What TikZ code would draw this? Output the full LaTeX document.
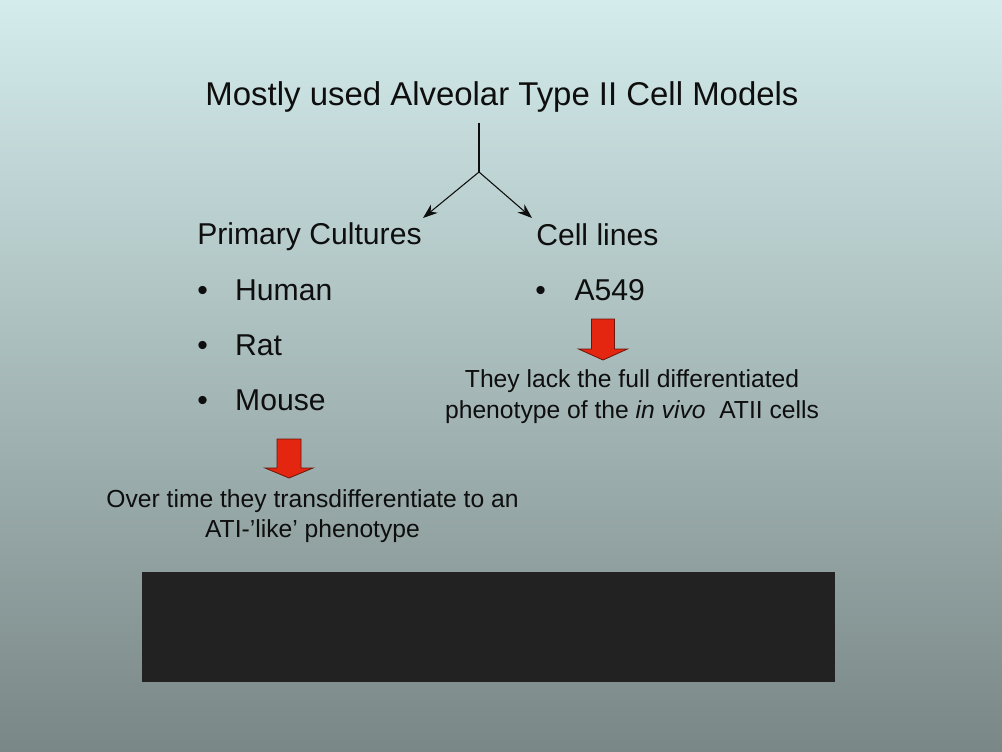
\documentclass[tikz,border=0pt]{standalone}
\usepackage{fontspec}
\setmainfont{Liberation Sans}
\usetikzlibrary{arrows.meta}

\definecolor{bgtop}{RGB}{212,236,236}
\definecolor{bgbottom}{RGB}{121,135,134}
\definecolor{ink}{RGB}{14,14,14}
\definecolor{arrowred}{RGB}{228,38,16}
\definecolor{arrowedge}{RGB}{105,22,12}
\definecolor{panel}{RGB}{34,34,34}

\tikzset{
  words/.style={inner sep=0pt, text=ink, anchor=base},
  title/.style={words, font=\fontsize{24.7}{30}\selectfont},
  head/.style={words, anchor=base west, font=\fontsize{22.6}{28}\selectfont},
  note/.style={words, font=\fontsize{18.5}{23}\selectfont},
  branch/.style={draw=ink, line width=0.8pt},
  redarrow/.style={fill=arrowred, draw=arrowedge, line width=0.6pt, line join=miter},
}

\begin{document}
\begin{tikzpicture}[x=0.75pt,y=-0.75pt]
  % slide background
  \shade[top color=bgtop, bottom color=bgbottom] (0,0) rectangle (1002,752);

  \node[title] (models) at (502,106) {Mostly used Alveolar Type II Cell Models};

  % tree
  \coordinate (stem) at (479,123);
  \coordinate (fork) at (479,172);
  \coordinate (toprimary) at (423,218);
  \coordinate (tocells) at (532,218);
  \draw[branch] (stem) -- (fork);
  \draw[branch, -{Stealth[length=11pt,width=8pt]}] (fork) -- (toprimary);
  \draw[branch, -{Stealth[length=11pt,width=8pt]}] (fork) -- (tocells);

  % primary cultures
  \node[head] (primary) at (197,244) {Primary Cultures};
  \node[head] (human) at (197,300) {\makebox[28.5pt][l]{•}Human};
  \node[head] (rat) at (197,355) {\makebox[28.5pt][l]{•}Rat};
  \node[head] (mouse) at (197,410) {\makebox[28.5pt][l]{•}Mouse};

  % cell lines
  \node[head] (cells) at (536,245) {Cell lines};
  \node[head] (a549) at (535,300) {\makebox[29.5pt][l]{•}A549};

  % red arrows
  \draw[redarrow] (277,439) -- (301,439) -- (301,468) -- (313,468) -- (289,478)
    -- (265,468) -- (277,468) -- cycle;
  \draw[redarrow] (591.5,319) -- (614.5,319) -- (614.5,349) -- (627.5,349) -- (603,360)
    -- (578.5,349) -- (591.5,349) -- cycle;

  \node[note] (lack1) at (632,387) {They lack the full differentiated};
  \node[note] (lack2) at (632,418) {phenotype of the \textit{in vivo}\ \ ATII cells};

  \node[note] (over1) at (312.5,507) {Over time they transdifferentiate to an};
  \node[note] (over2) at (312.5,537) {ATI-’like’ phenotype};

  % dark panel
  \fill[panel] (142,572) rectangle (835,682);
\end{tikzpicture}
\end{document}
